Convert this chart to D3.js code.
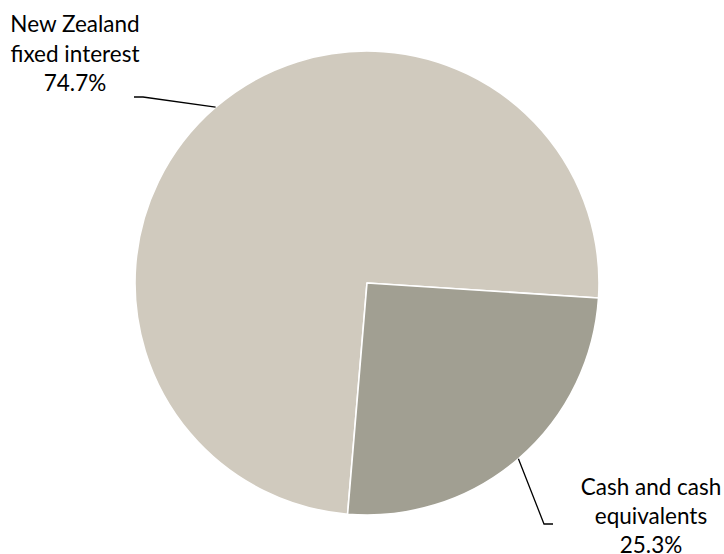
<!DOCTYPE html>
<html>
<head>
<meta charset="utf-8">
<script src="https://cdn.jsdelivr.net/npm/d3@7"></script>
<style>
  html, body { margin: 0; padding: 0; background: #fff; }
  svg { display: block; }
</style>
</head>
<body>
<script>
// data
const categories = ['New Zealand fixed interest', 'Cash and cash equivalents'];
const values = [74.7, 25.3];
const labelLines = [['New Zealand', 'fixed interest'], ['Cash and cash', 'equivalents']];
const colors = ['#d0cabe', '#a19f92'];

const width = 724, height = 554;
const cx = 367, cy = 283, radius = 232;
const start = 184.8 * Math.PI / 180;

// where each label's leader line bends, and where its text sits
const labelLayout = [
  {elbow: [143, 97], end: [134, 97], tx: 75, ty: 32, lineH: 29.5},
  {elbow: [544, 524], end: [553, 524], tx: 651, ty: 495, lineH: 29}
];

const svg = d3.select('body').append('svg')
  .attr('width', width)
  .attr('height', height);

const pie = d3.pie().sort(null).value(d => d)
  .startAngle(start).endAngle(start + 2 * Math.PI);
const arcs = pie(values);
const arc = d3.arc().innerRadius(0).outerRadius(radius);

const g = svg.append('g').attr('transform', `translate(${cx},${cy})`);
g.selectAll('path')
  .data(arcs)
  .join('path')
  .attr('d', arc)
  .attr('fill', (d, i) => colors[i])
  .attr('stroke', '#fff')
  .attr('stroke-width', 1.6)
  .attr('stroke-linejoin', 'round');

// leader lines from the middle of each slice's edge
arcs.forEach((d, i) => {
  const mid = (d.startAngle + d.endAngle) / 2;
  const p = [cx + radius * Math.sin(mid), cy - radius * Math.cos(mid)];
  const L = labelLayout[i];
  svg.append('path')
    .attr('d', d3.line()([p, L.elbow, L.end]))
    .attr('fill', 'none')
    .attr('stroke', '#000')
    .attr('stroke-width', 1.3);

  const lines = labelLines[i].concat([d3.format('.1f')(d.data) + '%']);
  const t = svg.append('text')
    .attr('text-anchor', 'middle')
    .attr('font-family', 'Lato, Carlito, Calibri, sans-serif')
    .attr('font-size', 22.5)
    .attr('fill', '#000');
  lines.forEach((s, k) => {
    t.append('tspan')
      .attr('x', L.tx)
      .attr('y', L.ty + k * L.lineH)
      .text(s);
  });
});
</script>
</body>
</html>
